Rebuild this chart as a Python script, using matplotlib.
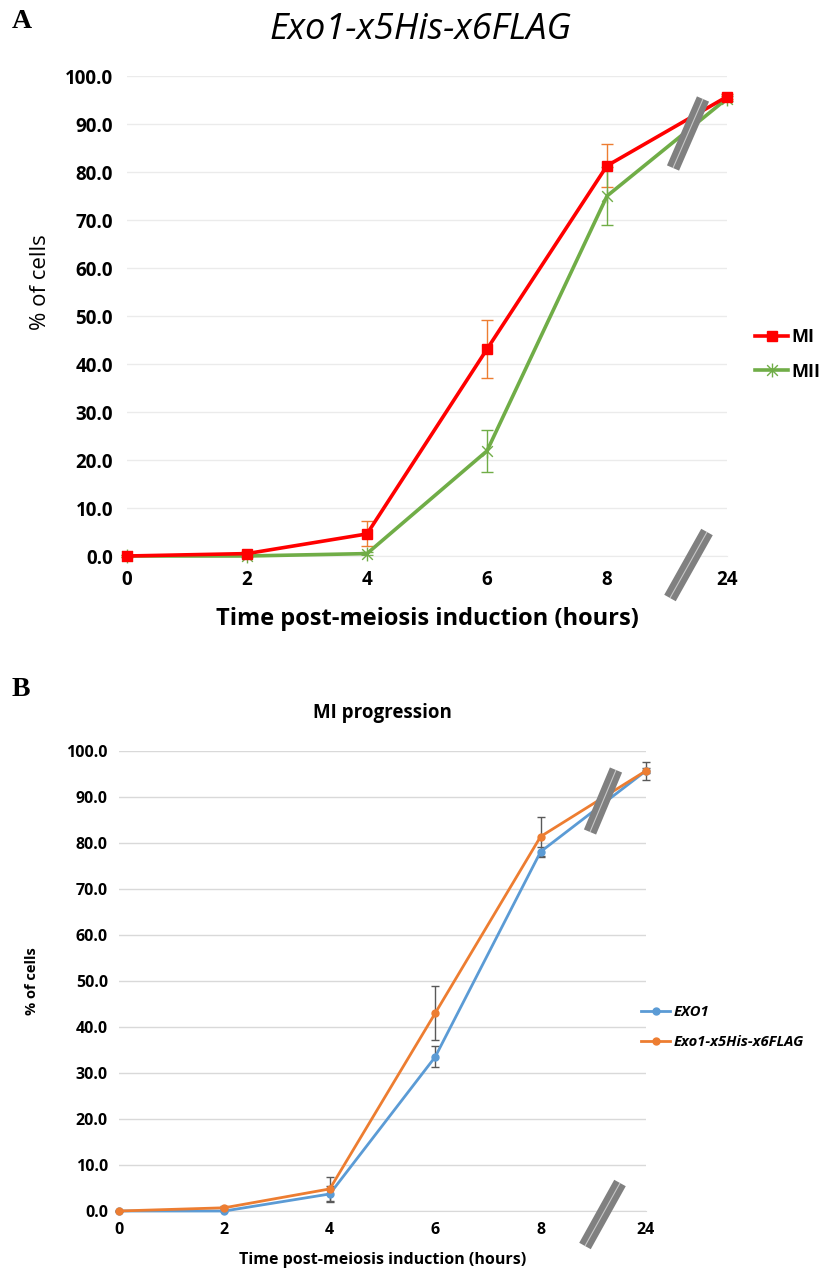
import numpy as np
import matplotlib.pyplot as plt
from matplotlib.path import Path

plt.rcParams['font.family'] = ['Open Sans', 'DejaVu Sans']

# data
hours = ['0', '2', '4', '6', '8', '24']
mi_a = [0.0, 0.5, 4.6, 43.1, 81.3, 95.7]
mi_a_err = [0.3, 0.3, 2.6, 6.0, 4.5, 0.5]
mii_a = [0.0, 0.0, 0.5, 21.9, 75.0, 95.3]
mii_a_err = [0.3, 0.3, 0.3, 4.3, 6.0, 0.5]

exo1_b = [0.0, 0.0, 3.7, 33.5, 78.1, 95.7]
exo1_b_err = [0.0, 0.0, 1.7, 2.3, 1.1, 2.0]
flag_b = [0.0, 0.7, 4.8, 43.0, 81.4, 95.7]
flag_b_err = [0.0, 0.3, 2.6, 5.9, 4.3, 0.5]

x = np.arange(len(hours))

# excel style star marker (X + vertical bar)
star = Path([(-1, -1), (1, 1), (-1, 1), (1, -1), (0, -1.3), (0, 1.3)],
            [Path.MOVETO, Path.LINETO, Path.MOVETO, Path.LINETO, Path.MOVETO, Path.LINETO])

fig = plt.figure(figsize=(8.23, 12.75), dpi=100)


def px(xp, yp):
    return xp / 823, 1 - yp / 1275


def break_mark(x0, y0, x1, y1):
    fig.add_artist(plt.Line2D([x0 / 823, x1 / 823], [1 - y0 / 1275, 1 - y1 / 1275],
                              color='#808080', lw=9.5, solid_capstyle='butt'))
    fig.add_artist(plt.Line2D([x0 / 823, x1 / 823], [1 - y0 / 1275, 1 - y1 / 1275],
                              color='#c8c8c8', lw=0.8, solid_capstyle='butt'))


def style_axes(ax, grid_color, tick_size, ylab_pad):
    ax.set_xlim(0, 5)
    ax.set_ylim(0, 100)
    ax.set_yticks(np.arange(0, 101, 10))
    ax.set_yticklabels([f'{v:.1f}' for v in np.arange(0, 101, 10)])
    ax.set_xticks(x)
    ax.set_xticklabels(hours)
    for s in ['top', 'right', 'left']:
        ax.spines[s].set_visible(False)
    ax.spines['bottom'].set_color(grid_color)
    ax.grid(axis='y', color=grid_color, lw=1)
    ax.set_axisbelow(True)
    ax.tick_params(length=0, labelsize=tick_size, pad=ylab_pad)
    for lab in ax.get_xticklabels() + ax.get_yticklabels():
        lab.set_fontweight('bold')


# ---------------- panel A ----------------
axA = fig.add_axes([127 / 823, 1 - 556 / 1275, 600 / 823, 480 / 1275])
style_axes(axA, '#ebebeb', 13.5, 10)
axA.errorbar(x, mi_a, yerr=mi_a_err, fmt='none', ecolor='#ED7D31', elinewidth=1, capsize=4, clip_on=False)
axA.errorbar(x, mii_a, yerr=mii_a_err, fmt='none', ecolor='#70AD47', elinewidth=1, capsize=4, clip_on=False)
axA.plot(x, mi_a, color='#FF0000', lw=2.6, marker='s', ms=7, label='MI', clip_on=False, zorder=4)
axA.plot(x, mii_a, color='#70AD47', lw=2.6, marker=star, ms=10, mew=1, mfc='none', label='MII',
         clip_on=False, zorder=3)
axA.set_xlabel('Time post-meiosis induction (hours)', fontsize=17, fontweight='bold', labelpad=12)
fig.text(*px(40, 282), '% of cells', fontsize=16, rotation=90, ha='center', va='center')
axA.legend(loc='center left', bbox_to_anchor=(1.02, 0.42), frameon=False, handlelength=1.8,
           handletextpad=0.2, labelspacing=0.9, prop={'weight': 'bold', 'size': 13})
fig.text(*px(420, 30), 'Exo1-x5His-x6FLAG', fontsize=26, style='italic', va='center', ha='center')
fig.text(*px(12, 22), 'A', fontsize=20, fontweight='bold', family='Liberation Serif', va='center')
break_mark(703, 99, 673, 168)
break_mark(707, 532, 670, 598)

# ---------------- panel B ----------------
axB = fig.add_axes([119 / 823, 1 - 1211 / 1275, 527 / 823, 460 / 1275])
style_axes(axB, '#d9d9d9', 11.5, 8)
axB.errorbar(x, exo1_b, yerr=exo1_b_err, fmt='none', ecolor='#595959', elinewidth=1, capsize=3, clip_on=False)
axB.errorbar(x, flag_b, yerr=flag_b_err, fmt='none', ecolor='#595959', elinewidth=1, capsize=3, clip_on=False)
axB.plot(x, exo1_b, color='#5B9BD5', lw=2, marker='o', ms=5, label='EXO1', clip_on=False, zorder=3)
axB.plot(x, flag_b, color='#ED7D31', lw=2, marker='o', ms=5, label='Exo1-x5His-x6FLAG',
         clip_on=False, zorder=4)
axB.set_xlabel('Time post-meiosis induction (hours)', fontsize=11.5, fontweight='bold', labelpad=10)
axB.set_ylabel('% of cells', fontsize=10.5, fontweight='bold', labelpad=20)
axB.set_title('MI progression', fontsize=13.5, fontweight='bold', pad=24)
axB.legend(loc='center left', bbox_to_anchor=(0.965, 0.40), frameon=False, handlelength=2.0,
           handletextpad=0.2, labelspacing=1.1, prop={'weight': 'bold', 'style': 'italic', 'size': 10.6})
fig.text(*px(12, 690), 'B', fontsize=20, fontweight='bold', family='Liberation Serif', va='center')
break_mark(616, 770, 590, 832)
break_mark(620, 1183, 585, 1246)

fig.savefig('out.png', dpi=100)
